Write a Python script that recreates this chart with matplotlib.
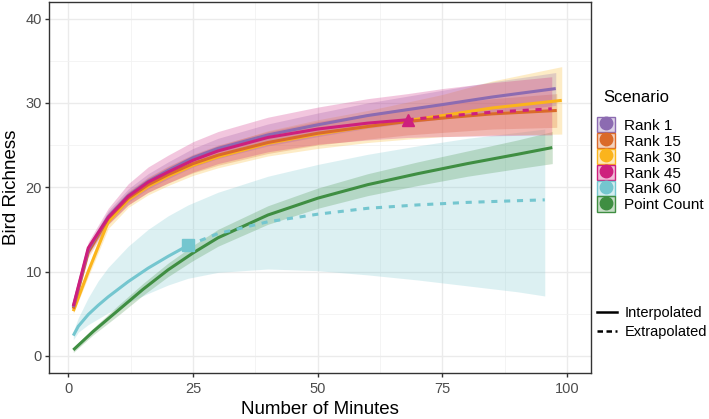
import matplotlib
matplotlib.use("Agg")
import matplotlib.pyplot as plt
from matplotlib.patches import Patch
from matplotlib.lines import Line2D

plt.rcParams['font.family'] = ['Liberation Sans', 'DejaVu Sans']

# ---- data ----
scenarios = ['Rank 1', 'Rank 15', 'Rank 30', 'Rank 45', 'Rank 60', 'Point Count']
colors = ['#8C6BB1', '#DA6A2A', '#FBB41C', '#CE1F7D', '#74C6CF', '#3F8E42']

# Rank 1
r1_x = [1, 4, 8, 12, 16, 20, 25, 30, 40, 50, 60, 68, 75, 85, 97.7]
r1_y = [5.8, 12.6, 16.5, 19.0, 20.7, 22.0, 23.5, 24.6, 26.2, 27.4, 28.5, 29.2, 29.8, 30.7, 31.7]
r1_lo = [5.5, 12.0, 15.8, 18.2, 19.8, 21.0, 22.4, 23.4, 24.9, 26.0, 27.0, 27.6, 28.1, 28.9, 29.7]
r1_hi = [6.1, 13.2, 17.2, 19.8, 21.6, 23.0, 24.6, 25.8, 27.5, 28.8, 30.0, 30.8, 31.5, 32.5, 33.6]

# Rank 15
r15_x = [1, 4, 8, 12, 16, 20, 25, 30, 40, 50, 60, 68, 75, 85, 97.9]
r15_y = [5.6, 12.3, 16.3, 18.7, 20.3, 21.5, 22.8, 23.8, 25.3, 26.4, 27.2, 27.8, 28.2, 28.7, 29.1]
r15_lo = [5.3, 11.7, 15.6, 17.9, 19.4, 20.5, 21.7, 22.6, 24.0, 25.0, 25.7, 26.2, 26.5, 26.9, 27.1]
r15_hi = [5.9, 12.9, 17.0, 19.5, 21.2, 22.5, 23.9, 25.0, 26.6, 27.8, 28.7, 29.4, 29.9, 30.5, 31.1]

# Rank 30
r30_x = [1, 4, 8, 12, 16, 20, 25, 30, 40, 50, 60, 68, 75, 85, 98.9]
r30_y = [5.3, 10.0, 15.9, 18.5, 20.1, 21.3, 22.6, 23.6, 25.2, 26.3, 27.2, 27.9, 28.5, 29.4, 30.3]
r30_lo = [5.0, 9.4, 15.1, 17.6, 19.1, 20.2, 21.4, 22.3, 23.7, 24.6, 25.3, 25.7, 26.0, 26.2, 26.3]
r30_hi = [5.6, 10.6, 16.7, 19.4, 21.1, 22.4, 23.8, 24.9, 26.7, 28.0, 29.1, 30.1, 31.0, 32.6, 34.3]

# Rank 45 (observed at 68 min, extrapolated after)
r45_x = [1, 4, 8, 12, 16, 20, 25, 30, 40, 50, 60, 68]
r45_y = [5.9, 12.8, 16.4, 18.9, 20.6, 21.8, 23.2, 24.3, 25.9, 26.9, 27.6, 28.0]
r45_ext_x = [68, 75, 85, 96.9]
r45_ext_y = [28.0, 28.4, 28.9, 29.3]
r45_band_x = [1, 4, 8, 12, 16, 20, 25, 30, 40, 50, 60, 68, 75, 85, 96.9]
r45_lo = [5.6, 12.2, 15.6, 17.9, 19.4, 20.5, 21.8, 22.8, 24.2, 25.1, 25.6, 25.9, 26.0, 26.1, 26.2]
r45_hi = [6.2, 13.5, 17.5, 20.4, 22.4, 23.8, 25.4, 26.6, 28.3, 29.5, 30.5, 31.1, 31.7, 32.4, 33.1]

# Rank 60 (observed at 24 min)
r60_x = [1, 2, 4, 6, 8, 12, 16, 20, 24]
r60_y = [2.4, 3.5, 4.9, 6.0, 7.0, 8.8, 10.4, 11.8, 13.1]
r60_ext_x = [24, 30, 40, 50, 60, 70, 80, 90, 95.5]
r60_ext_y = [13.1, 14.5, 15.9, 16.8, 17.5, 17.9, 18.2, 18.4, 18.5]
r60_band_x = [1, 2, 4, 6, 8, 12, 16, 20, 24, 30, 40, 50, 60, 70, 80, 90, 95.5]
r60_lo = [1.9, 2.8, 3.7, 4.4, 5.1, 6.3, 7.4, 8.4, 9.2, 9.9, 10.3, 10.1, 9.6, 9.0, 8.3, 7.6, 7.1]
r60_hi = [2.9, 4.5, 6.9, 8.9, 10.5, 13.0, 15.0, 16.6, 17.9, 19.4, 21.3, 22.7, 23.9, 24.9, 25.8, 26.5, 26.9]

# Point Count
pc_x = [1, 5, 10, 15, 20, 25, 30, 40, 50, 60, 70, 80, 90, 97]
pc_y = [0.7, 2.9, 5.4, 7.9, 10.2, 12.2, 14.0, 16.7, 18.7, 20.3, 21.6, 22.8, 23.9, 24.7]
pc_lo = [0.4, 2.5, 4.8, 7.2, 9.4, 11.3, 13.0, 15.6, 17.5, 19.0, 20.2, 21.3, 22.2, 22.8]
pc_hi = [1.0, 3.3, 6.0, 8.6, 11.0, 13.1, 15.0, 17.8, 19.9, 21.6, 23.0, 24.3, 25.6, 26.6]

x_ticks = [0, 25, 50, 75, 100]
y_ticks = [0, 10, 20, 30, 40]

# ---- figure ----
fig = plt.figure(figsize=(7.09, 4.19), dpi=100)
ax = fig.add_axes([0.0691, 0.1105, 0.764, 0.8854])

band_alpha = 0.25
bands = [
    (r60_band_x, r60_lo, r60_hi, colors[4]),
    (pc_x, pc_lo, pc_hi, colors[5]),
    (r30_x, r30_lo, r30_hi, colors[2]),
    (r15_x, r15_lo, r15_hi, colors[1]),
    (r1_x, r1_lo, r1_hi, colors[0]),
    (r45_band_x, r45_lo, r45_hi, colors[3]),
]
for bx, lo, hi, c in bands:
    ax.fill_between(bx, lo, hi, color=c, alpha=band_alpha, linewidth=0)

lw = 2.2
dash = (2.0, 2.2)
ax.plot(pc_x, pc_y, color=colors[5], lw=lw, solid_capstyle='butt')
ax.plot(r60_x, r60_y, color=colors[4], lw=lw, solid_capstyle='butt')
ax.plot(r60_ext_x, r60_ext_y, color=colors[4], lw=lw, dashes=dash)
ax.plot(r30_x, r30_y, color=colors[2], lw=lw, solid_capstyle='butt')
ax.plot(r15_x, r15_y, color=colors[1], lw=lw, solid_capstyle='butt')
ax.plot(r1_x, r1_y, color=colors[0], lw=lw, solid_capstyle='butt')
ax.plot(r45_x, r45_y, color=colors[3], lw=lw, solid_capstyle='butt')
ax.plot(r45_ext_x, r45_ext_y, color=colors[3], lw=lw, dashes=dash)

# observed points
ax.plot(r45_x[-1], r45_y[-1], marker='^', ms=9, color=colors[3], linestyle='none')
ax.plot(r60_x[-1], r60_y[-1], marker='s', ms=8.5, color=colors[4], linestyle='none')

# axes styling
ax.set_xlim(-3.87, 104.7)
ax.set_ylim(-2, 42)
ax.set_xticks(x_ticks)
ax.set_yticks(y_ticks)
ax.set_xticks([12.5, 37.5, 62.5, 87.5], minor=True)
ax.set_yticks([5, 15, 25, 35], minor=True)
ax.grid(which='major', color='#EBEBEB', lw=1.0)
ax.grid(which='minor', color='#F2F2F2', lw=0.6)
ax.set_axisbelow(True)
for s in ax.spines.values():
    s.set_color('#333333')
    s.set_linewidth(1.0)
ax.tick_params(which='major', length=3, width=1, color='#333333',
               labelcolor='#4D4D4D', labelsize=10.5, pad=2)
ax.tick_params(axis='x', which='major', pad=4)
ax.tick_params(which='minor', length=0)
ax.set_xlabel('Number of Minutes', fontsize=13.5, color='black', labelpad=3)
ax.set_ylabel('Bird Richness', fontsize=13.5, color='black', labelpad=4)

# scenario legend
handles = []
for c in colors:
    sq = Patch(facecolor=matplotlib.colors.to_rgba(c, 0.3), edgecolor=c, linewidth=1)
    dot = Line2D([], [], marker='o', color=c, linestyle='none', markersize=9)
    handles.append((sq, dot))
fig.text(603 / 709, 1 - 97 / 419, 'Scenario', fontsize=12, ha='left', va='center')
fig.legend(handles, scenarios, loc='upper left',
           bbox_to_anchor=(597 / 709, 1 - 117 / 419), frameon=False, fontsize=11,
           handlelength=1.2, handleheight=1.18, handletextpad=0.6,
           labelspacing=0.0, borderpad=0, borderaxespad=0)

# line type legend
lt_handles = [Line2D([], [], color='black', lw=1.8),
              Line2D([], [], color='black', lw=1.8, dashes=(2.2, 1.4))]
fig.legend(lt_handles, ['Interpolated', 'Extrapolated'], loc='upper left',
           bbox_to_anchor=(597 / 709, 1 - 306 / 419), frameon=False, fontsize=10.5,
           handlelength=1.4, handletextpad=0.5, labelspacing=0.35, borderpad=0,
           borderaxespad=0)

fig.savefig('out.png', dpi=100)
